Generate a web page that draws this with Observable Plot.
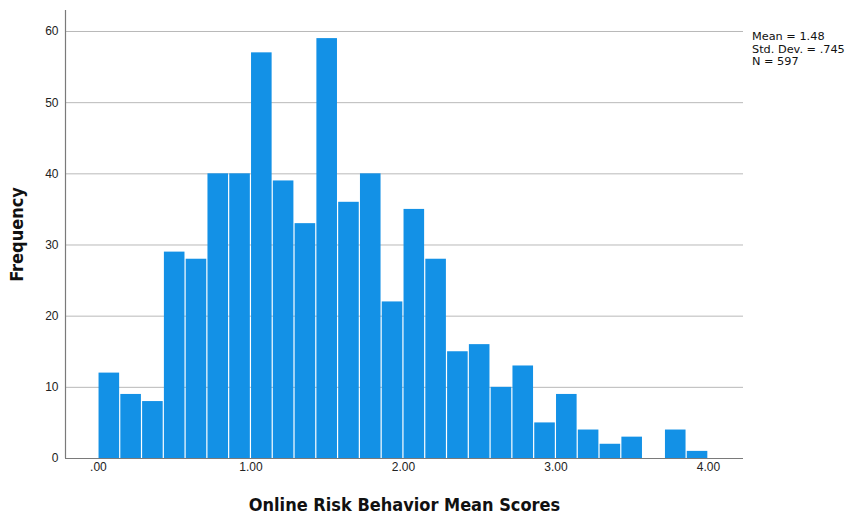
<!DOCTYPE html>
<html>
<head>
<meta charset="utf-8">
<script src="https://cdn.jsdelivr.net/npm/d3@7"></script>
<script src="https://cdn.jsdelivr.net/npm/@observablehq/plot@0.6"></script>
<style>
  html, body { margin: 0; padding: 0; background: #fff; }
  #chart { position: relative; width: 854px; height: 517px; }
  .stats { position: absolute; left: 752px; top: 31px; font-family: "DejaVu Sans", sans-serif; font-size: 11.3px; line-height: 12.5px; color: #111; }
</style>
</head>
<body>
<div id="chart"></div>
<script>
// Histogram bins (width 1/7 starting at 0)
const binWidth = 1 / 7;
const counts = [12, 9, 8, 29, 28, 40, 40, 57, 39, 33, 59, 36, 40, 22, 35, 28, 15, 16, 10, 13, 5, 9, 4, 2, 3, 0, 4, 1];
const xTicks = [0, 1, 2, 3, 4];
const yTicks = [0, 10, 20, 30, 40, 50, 60];
const statsLines = ["Mean = 1.48", "Std. Dev. = .745", "N = 597"];
const xTitle = "Online Risk Behavior Mean Scores";
const yTitle = "Frequency";

const bins = counts.map((c, i) => ({x1: i * binWidth, x2: (i + 1) * binWidth, count: c}));

const plot = Plot.plot({
  width: 854,
  height: 517,
  marginLeft: 65,
  marginRight: 111,
  marginTop: 10,
  marginBottom: 59,
  style: {fontFamily: "Liberation Sans, Arial, sans-serif", fontSize: "12px", color: "#222", background: "#fff"},
  x: {domain: [-0.216, 4.23]},
  y: {domain: [0, 62.95]},
  marks: [
    Plot.gridY(yTicks.filter(d => d > 0), {stroke: "#b9b9b9", strokeOpacity: 1, strokeWidth: 1}),
    Plot.rectY(bins, {x1: "x1", x2: "x2", y: "count", fill: "#1391e6", insetLeft: 0.6, insetRight: 0.6}),
    Plot.ruleY([0], {stroke: "#7a7a7a", strokeWidth: 1.2}),
    Plot.ruleX([-0.216], {stroke: "#7a7a7a", strokeWidth: 1.2}),
    Plot.axisY(yTicks, {tickSize: 0, tickPadding: 7, label: null, fontSize: 12}),
    Plot.axisX(xTicks, {tickSize: 0, tickPadding: 4, label: null, fontSize: 12,
      tickFormat: d => d === 0 ? ".00" : d.toFixed(2)}),
    Plot.text([xTitle], {frameAnchor: "bottom", dy: 52, fontSize: 18, fontWeight: "bold",
      fontFamily: "Liberation Sans Narrow, DejaVu Sans Condensed, sans-serif", fill: "#111"}),
    Plot.text([yTitle], {frameAnchor: "left", textAnchor: "middle", dx: -48, rotate: -90, fontSize: 18, fontWeight: "bold",
      fontFamily: "Liberation Sans Narrow, DejaVu Sans Condensed, sans-serif", fill: "#111"})
  ]
});
const chart = document.getElementById("chart");
chart.appendChild(plot);
const s = document.createElement("div");
s.className = "stats";
s.innerHTML = statsLines.map(t => `<div>${t}</div>`).join("");
chart.appendChild(s);
</script>
</body>
</html>
